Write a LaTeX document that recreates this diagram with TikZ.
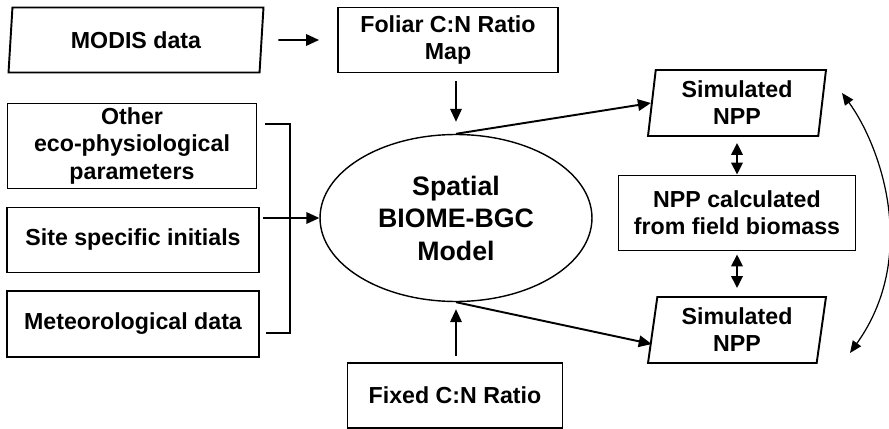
\documentclass[tikz,border=0pt]{standalone}
\usepackage{fontspec}
\setmainfont{Liberation Sans}
\usetikzlibrary{arrows.meta,positioning,calc,shapes.geometric}

\begin{document}
\begin{tikzpicture}[x=.02cm,y=-.02cm,
  txt/.style={align=center,font=\fontsize{13.2}{15.4}\selectfont\bfseries,inner sep=0pt},
  box/.style={txt,draw,line width=1.1pt},
  data/.style={txt,draw,line width=1.1pt,trapezium,trapezium stretches body,
    trapezium left angle=#1,trapezium right angle=180-#1},
  arr/.style={line width=1.1pt,-{Triangle[length=2.6mm,width=2.3mm]}},
  twoarr/.style={line width=1.1pt,{Triangle[length=2.4mm,width=2.3mm]}-{Triangle[length=2.4mm,width=2.3mm]}}]
\useasboundingbox (0,0) rectangle (889,429);
% inputs
\node[data=77,minimum width=5.1cm,minimum height=1.3cm] (modis) at (136,40) {MODIS data};
\node[box,minimum width=4.4cm,minimum height=1.3cm] (foliar) at (448,40) {Foliar C:N Ratio\\Map};
\node[box,minimum width=4.98cm,minimum height=1.7cm] (other) at (132,146) {Other\\eco-physiological\\parameters};
\node[box,minimum width=5.04cm,minimum height=1.3cm] (site) at (133,240) {Site specific initials};
\node[box,minimum width=5.04cm,minimum height=1.32cm] (meteo) at (133,324) {Meteorological data};
\node[box,minimum width=4.3cm,minimum height=1.3cm] (fixed) at (455,395.5) {Fixed C:N Ratio};
% model
\node[ellipse,draw,line width=.8pt,inner sep=0pt,minimum width=5.44cm,minimum height=3.34cm,
  align=center,font=\fontsize{15.2}{18.5}\selectfont\bfseries] (model) at (456,218) {Spatial\\BIOME-BGC\\Model};
% outputs
\node[data=80,minimum width=3.56cm,minimum height=1.32cm] (simtop) at (737,103) {Simulated\\NPP};
\node[box,minimum width=4.74cm,minimum height=1.5cm] (field) at (737,213) {NPP calculated\\from field biomass};
\node[data=78,minimum width=3.56cm,minimum height=1.32cm] (simbot) at (737,330) {Simulated\\NPP};
\coordinate (brtop) at (265,124);
\coordinate (brbot) at (266,333);
\coordinate (brin) at (263,218);
\coordinate (cvtop) at (842,93);
\coordinate (cvbot) at (850,353);
% connectors
\draw[arr,shorten <=3.2mm,shorten >=3.6mm] (modis.east) -- (foliar.west);
\draw[arr,shorten <=1.6mm,shorten >=2.4mm] (model.north |- foliar.south) -- (model.north);
\draw[arr,shorten <=1.2mm,shorten >=1.4mm] (model.south |- fixed.north) -- (model.south);
\draw[line width=.9pt] (brtop) -- (brtop -| 290,0) -- (brbot -| 290,0) -- (brbot);
\draw[arr] (brin) -- (model.west);
\draw[arr] (model.north) -- (simtop.west);
\draw[arr] (model.south) -- ([yshift=-8]simbot.west);
\draw[twoarr,shorten <=1.2mm] (simtop.south) -- (field.north);
\draw[twoarr,shorten <=.6mm,shorten >=1.6mm] (field.south) -- (simbot.north);
\draw[line width=.7pt,{Triangle[length=2.4mm,width=2mm]}-{Triangle[length=2.4mm,width=2mm]}]
  (cvtop) .. controls (880,145) and (920,255) .. (cvbot);
\end{tikzpicture}
\end{document}
